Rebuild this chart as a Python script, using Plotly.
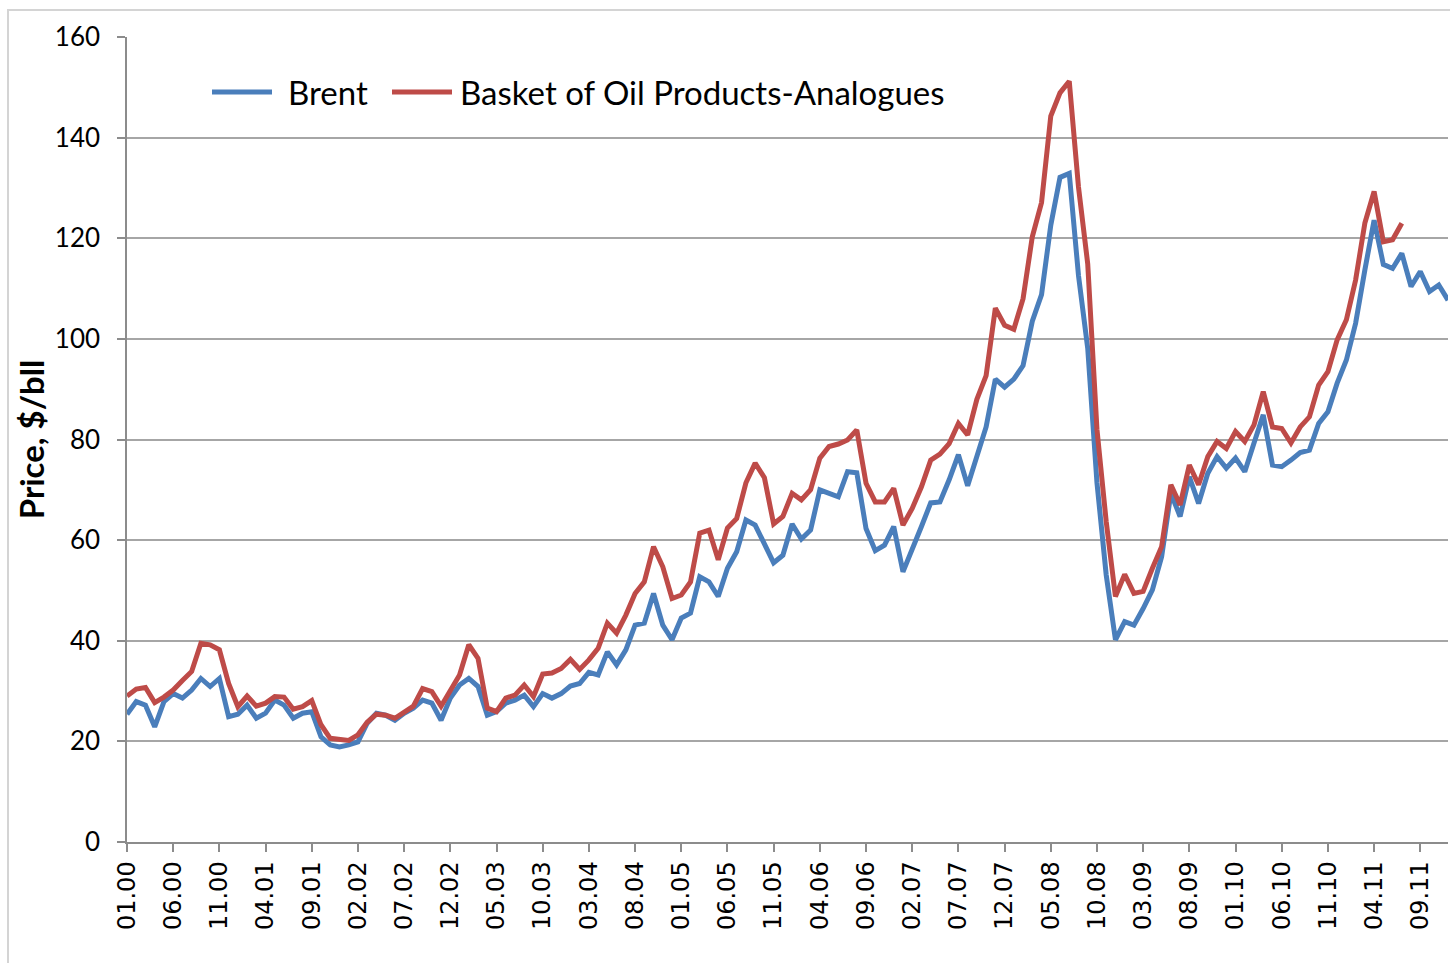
import plotly.graph_objects as go

# Monthly categories 01.00 ... 12.11
years = ["00", "01", "02", "03", "04", "05", "06", "07", "08", "09", "10", "11"]
months = [f"{m:02d}.{y}" for y in years for m in range(1, 13)]

tick_labels = ["01.00", "06.00", "11.00", "04.01", "09.01", "02.02", "07.02", "12.02",
               "05.03", "10.03", "03.04", "08.04", "01.05", "06.05", "11.05", "04.06",
               "09.06", "02.07", "07.07", "12.07", "05.08", "10.08", "03.09", "08.09",
               "01.10", "06.10", "11.10", "04.11", "09.11"]

brent = [
    25.4, 27.9, 27.2, 22.9, 27.9, 29.5, 28.6, 30.2, 32.5, 30.9, 32.5, 24.9,
    25.4, 27.2, 24.6, 25.6, 28.2, 27.2, 24.6, 25.6, 25.9, 20.9, 19.3, 18.9,
    19.3, 19.9, 23.6, 25.6, 25.2, 24.2, 25.6, 26.6, 28.2, 27.6, 24.2, 28.6,
    31.2, 32.5, 30.9, 25.2, 25.9, 27.6, 28.2, 29.2, 26.9, 29.5, 28.6, 29.5,
    31.0, 31.5, 33.7, 33.2, 37.8, 35.2, 38.2, 43.1, 43.5, 49.4, 43.1, 40.2,
    44.5, 45.5, 52.7, 51.7, 48.8, 54.4, 57.7, 64.0, 63.0, 59.2, 55.5, 57.0,
    63.2, 60.2, 62.0, 70.0, 69.4, 68.6, 73.6, 73.4, 62.3, 57.9, 59.0, 62.7,
    53.7, 58.0, 62.7, 67.4, 67.6, 72.0, 77.0, 70.8, 77.0, 82.5, 92.0, 90.4,
    92.0, 94.7, 103.5, 108.8, 122.6, 132.1, 132.9, 112.6, 98.1, 71.4, 53.1, 40.2,
    43.8, 43.1, 46.4, 50.1, 56.7, 69.3, 64.7, 72.6, 67.3, 73.3, 76.6, 74.3,
    76.3, 73.6, 79.3, 84.9, 74.9, 74.6, 75.9, 77.4, 77.9, 83.2, 85.5, 91.2,
    95.8, 103.1, 113.7, 123.6, 114.8, 114.0, 117.0, 110.4, 113.4, 109.4, 110.7, 107.7,
]

basket = [
    29.0, 30.4, 30.7, 27.7, 28.8, 30.2, 32.1, 33.9, 39.5, 39.2, 38.2, 31.5,
    26.9, 29.0, 27.0, 27.6, 28.9, 28.8, 26.4, 26.9, 28.1, 23.3, 20.6, 20.3,
    20.2, 21.3, 23.8, 25.4, 25.2, 24.6, 25.8, 27.0, 30.5, 29.9, 27.0, 30.2,
    33.2, 39.2, 36.5, 26.6, 25.9, 28.6, 29.2, 31.2, 28.9, 33.4, 33.6, 34.5,
    36.3, 34.3, 36.2, 38.5, 43.5, 41.5, 45.1, 49.4, 51.7, 58.7, 54.7, 48.4,
    49.1, 51.7, 61.4, 62.0, 56.1, 62.4, 64.3, 71.4, 75.3, 72.4, 63.2, 64.7,
    69.3, 68.0, 70.0, 76.3, 78.6, 79.1, 79.9, 81.9, 71.3, 67.6, 67.6, 70.3,
    63.0, 66.3, 70.6, 75.9, 77.1, 79.2, 83.2, 80.9, 88.0, 92.7, 106.1, 102.7,
    101.9, 108.0, 120.3, 127.1, 144.3, 148.9, 151.2, 130.2, 114.9, 82.0, 63.7, 48.8,
    53.2, 49.4, 49.8, 54.4, 58.7, 71.0, 67.0, 74.9, 71.0, 76.6, 79.6, 78.2,
    81.6, 79.6, 82.9, 89.5, 82.5, 82.2, 79.3, 82.5, 84.5, 90.8, 93.5, 99.8,
    103.8, 111.7, 123.0, 129.3, 119.3, 119.7, 123.0,
]

BLUE = "#4a7ebb"
RED = "#be4b48"
GRID = "#a6a6a6"
AXIS = "#8c8c8c"

fig = go.Figure()
fig.add_trace(go.Scatter(x=months[:len(brent)], y=brent, mode="lines", name="Brent",
                         line=dict(color=BLUE, width=5), showlegend=False))
fig.add_trace(go.Scatter(x=months[:len(basket)], y=basket, mode="lines",
                         name="Basket of Oil Products-Analogues",
                         line=dict(color=RED, width=5), showlegend=False))

W, H = 1450, 963
L, R, T, B = 127, 2, 37, 121
pw, ph = W - L - R, H - T - B


def px(xp):
    return (xp - L) / pw


def py(yp):
    return (H - B - yp) / ph


# manual legend (long line samples as in the reference)
legend_items = [("Brent", BLUE, 212, 272, 286), ("Basket of Oil Products-Analogues", RED, 392, 452, 458)]
for name, col, x0, x1, xt in legend_items:
    fig.add_shape(type="line", xref="paper", yref="paper", x0=px(x0), x1=px(x1),
                  y0=py(92), y1=py(92), line=dict(color=col, width=5))
    fig.add_annotation(text=name, xref="paper", yref="paper", x=px(xt), y=py(92),
                       xanchor="left", yanchor="middle", showarrow=False,
                       font=dict(family="Lato", size=33, color="#000000"))

# chart-area border
fig.add_shape(type="rect", xref="paper", yref="paper", x0=px(8), x1=px(1470),
              y0=py(1000), y1=py(10), line=dict(color="#d4d4d4", width=2), layer="below")

fig.update_layout(
    width=W, height=H,
    margin=dict(l=L, r=R, t=T, b=B, autoexpand=False),
    paper_bgcolor="white", plot_bgcolor="white",
    showlegend=False,
)
fig.update_xaxes(
    type="category", range=[0, len(months) - 1],
    tickmode="array", tickvals=tick_labels, ticktext=tick_labels,
    tickangle=-90, ticks="outside", ticklen=8, tickcolor=AXIS, tickwidth=1.5,
    showline=True, linecolor=AXIS, linewidth=1.5, showgrid=False, zeroline=False,
    tickfont=dict(family="DejaVu Sans", size=24, color="#000000"),
)
fig.update_yaxes(
    range=[0, 160], tickmode="array", tickvals=list(range(0, 161, 20)),
    ticks="outside", ticklen=8, tickcolor=AXIS, tickwidth=1.5,
    showline=True, linecolor=AXIS, linewidth=1.5,
    showgrid=True, gridcolor=GRID, gridwidth=1.5, zeroline=False,
    ticklabelstandoff=12,
    tickfont=dict(family="Lato", size=26, color="#000000"),
    title=dict(text="<b>Price, $/bll</b>", standoff=0,
               font=dict(family="Lato", size=33, color="#000000")),
    automargin=False,
)

fig.write_html("out.html", config={"displayModeBar": False},
               post_script="document.body.style.margin='0';document.body.style.overflow='hidden';")
